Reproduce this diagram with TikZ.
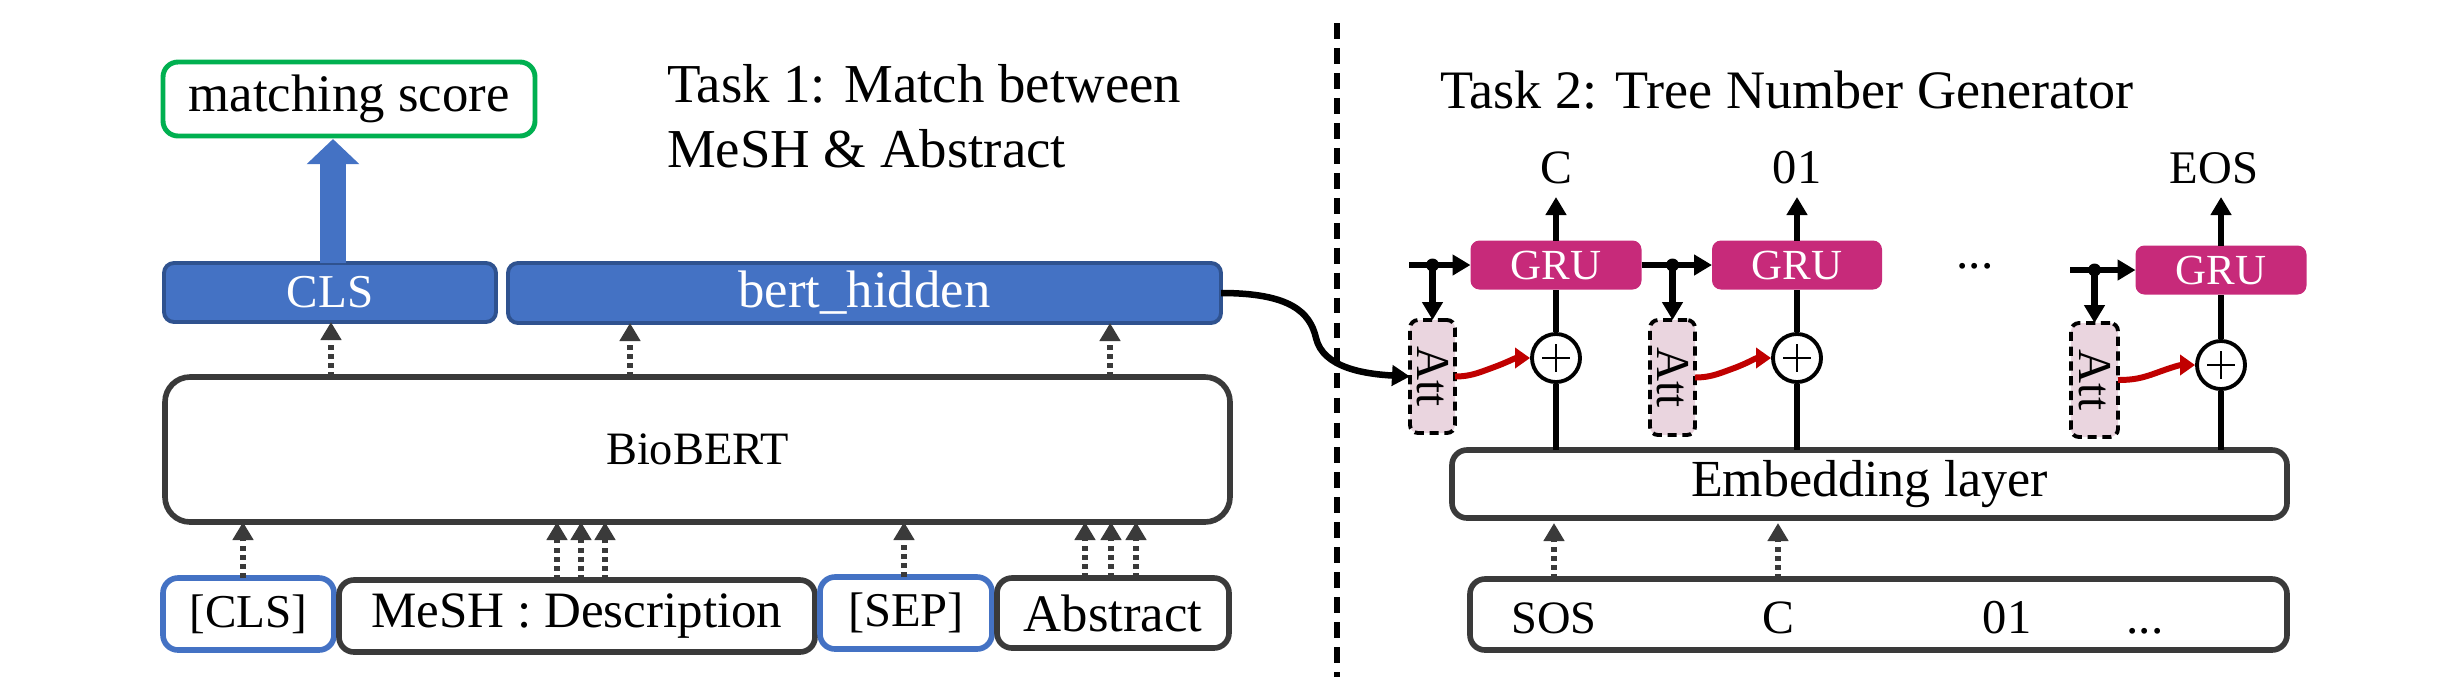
\documentclass[tikz,border=0pt]{standalone}
\usepackage{fontspec}
\usepackage{graphicx}
\setmainfont{Liberation Serif}
\usetikzlibrary{arrows.meta,calc}
\definecolor{bfill}{HTML}{4472C4}
\definecolor{bedge}{HTML}{2F528F}
\definecolor{gscore}{HTML}{00B050}
\definecolor{dgray}{HTML}{3A3A3A}
\definecolor{grucol}{RGB}{199,42,122}
\definecolor{attf}{RGB}{234,213,223}
\definecolor{redar}{HTML}{C00000}
\newcommand{\FS}[1]{\fontsize{#1}{#1}\selectfont}
\begin{document}
\begin{tikzpicture}[x=0.01cm,y=-0.01cm,
  bx/.style 2 args={minimum width=#1*0.01cm,minimum height=#2*0.01cm,inner sep=0pt,outer sep=0pt},
  wbox/.style={draw=dgray,line width=1.6pt,rounded corners=0.15cm,fill=white},
  bluebox/.style={draw=bfill,line width=1.6pt,rounded corners=0.15cm,fill=white},
  hid/.style={fill=bfill,draw=bedge,line width=1.1pt,rounded corners=0.1cm,text=white},
  grubox/.style={fill=grucol,rounded corners=0.09cm,text=white,font=\FS{12.2}},
  attbox/.style={fill=attf,draw=black,line width=1.1pt,dash pattern=on 2.6pt off 1.6pt,rounded corners=0.08cm},
  plusc/.style={circle,draw=black,line width=1.1pt,fill=white,minimum size=0.48cm,inner sep=0pt},
  lbl/.style={inner sep=0pt,outer sep=0pt,text depth=0pt},
  dotarr/.style={draw=dgray,line width=1.7pt,dash pattern=on 1.4pt off 1.2pt,-{Triangle[length=0.18cm,width=0.2cm]}},
  blk/.style={draw=black,line width=1.85pt},
  blkarr/.style={blk,-{Triangle[length=0.18cm,width=0.2cm]}},
  redarr/.style={draw=redar,line width=1.7pt,-{Triangle[length=0.15cm,width=0.2cm]}},
]
\useasboundingbox (0,0) rectangle (2439,699);

% ---------- Task 1 ----------
\node[wbox,draw=gscore,line width=1.4pt,bx={372}{74},font=\FS{15}] (score) at (349,99) {matching score};
\node[hid,bx={332}{59},font=\FS{13.4}] (cls) at (330,292.5) {CLS};
\node[hid,bx={713}{60},font=\FS{15}] (bert) at (864.5,293) {bert\_hidden};
\node[wbox,bx={1065}{145},rounded corners=0.25cm,font=\FS{13.2}] (bio) at (697.5,449.5) {BioBERT};

\node[bluebox,bx={171}{72},font=\FS{13.4}] (icls) at (248.5,614) {[CLS]};
\node[wbox,bx={476}{72},font=\FS{14.5}] (imesh) at (577,616) {MeSH : Description};
\node[bluebox,bx={172}{72},font=\FS{13.8}] (isep) at (906,613) {[SEP]};
\node[wbox,bx={232}{70},font=\FS{15}] (iabs) at (1113,613) {Abstract};

\node[lbl,anchor=base west,font=\FS{15.6}] (t1a) at (667,102) {Task 1: Match between};
\node[lbl,anchor=base west,font=\FS{15.6}] (t1b) at (667,167) {MeSH \& Abstract};

% block arrow CLS -> score
\coordinate (ba) at (333,0);
\draw[bfill,line width=0.25cm,-{Triangle[length=0.25cm,width=0.51cm]},shorten >=0.03cm] (cls.north -| ba) -- (score.south -| ba);

% dotted arrows into BioBERT
\foreach \xx/\src in {243/icls,557/imesh,581/imesh,605/imesh,904/isep,1085/iabs,1111/iabs,1136/iabs}{
  \coordinate (m) at (\xx,0);
  \draw[dotarr] (\src.north -| m) -- (bio.south -| m);
}
% dotted arrows out of BioBERT
\foreach \xx/\tgt in {331/cls,630/bert,1110/bert}{
  \coordinate (m) at (\xx,0);
  \draw[dotarr] (bio.north -| m) -- (\tgt.south -| m);
}

% divider
\coordinate (dvt) at (1337,23);
\coordinate (dvb) at (1337,677);
\draw[line width=1.5pt,dash pattern=on 4.5pt off 2.6pt] (dvt) -- (dvb);

% ---------- Task 2 ----------
\node[lbl,anchor=base west,font=\FS{15.4}] (t2) at (1440,108) {Task 2: Tree Number Generator};

\node[grubox,bx={171}{49}] (g1) at (1556,265) {GRU};
\node[grubox,bx={170}{49}] (g2) at (1797,265) {GRU};
\node[grubox,bx={171}{49}] (g3) at (2221,270) {GRU};

\node[lbl,anchor=base,font=\FS{13.6}] (o1) at (1556,183) {C};
\node[lbl,anchor=base,font=\FS{13.8}] (o2) at (1797,183) {01};
\node[lbl,anchor=base,font=\FS{13.3}] (o3) at (2214,183) {EOS};

\node[lbl,anchor=base,font=\FS{14}] (hdots) at (1975,268) {...};

\node[attbox,bx={45}{113}] (att1) at (1432.5,376.5) {\rotatebox{-90}{\FS{13.4}Att}};
\node[attbox,bx={45}{115}] (att2) at (1672.5,377.5) {\rotatebox{-90}{\FS{13.4}Att}};
\node[attbox,bx={47}{114}] (att3) at (2094.5,380) {\rotatebox{-90}{\FS{13.4}Att}};

\node[wbox,bx={835}{68},font=\FS{14.8}] (emb) at (1869.5,484) {Embedding layer};
\node[wbox,bx={817}{71}] (inp) at (1878.5,614.5) {};
\node[lbl,anchor=base,font=\FS{13.2}] (tsos) at (1554,633) {SOS};
\node[lbl,anchor=base,font=\FS{13.6}] (tc) at (1778,633) {C};
\node[lbl,anchor=base,font=\FS{13.8}] (t01) at (2007,633) {01};
\node[lbl,anchor=base,font=\FS{14}] (tdots) at (2145,633) {...};

\node[plusc] (c1) at (1556,358) {};
\node[plusc] (c2) at (1797,358) {};
\node[plusc] (c3) at (2221,365) {};
\foreach \cc in {c1,c2,c3}{
  \draw[line width=0.6pt] ($(\cc.center)+(-14,0)$) -- ($(\cc.center)+(14,0)$);
  \draw[line width=0.6pt] ($(\cc.center)+(0,-14)$) -- ($(\cc.center)+(0,14)$);
}

% verticals
\foreach \cc/\gg/\oo in {c1/g1/o1,c2/g2/o2,c3/g3/o3}{
  \draw[blk] (emb.north -| \cc) -- (\cc.south);
  \draw[blk] (\cc.north) -- (\gg.south);
  \draw[blkarr,shorten >=0.14cm] (\gg.north) -- (\gg.north |- \oo.south);
}

% recurrent inputs
\coordinate (s1) at (1409,265);
\coordinate (s3) at (2070,270);
\draw[blkarr] (s1) -- (g1.west);
\draw[blkarr] (g1.east) -- (g2.west);
\draw[blkarr] (s3) -- (g3.west);
\foreach \aa/\gg in {att1/g1,att2/g2,att3/g3}{
  \coordinate (dd) at (\aa.north |- \gg.west);
  \fill (dd) circle (0.065cm);
  \draw[blkarr] (dd) -- (\aa.north);
}

% attention to plus
\draw[redarr] (att1.east) to[out=0,in=200] ++(38,-9) to[out=20,in=180] (c1.west);
\draw[redarr] (att2.east) to[out=0,in=200] ++(38,-9) to[out=20,in=180] (c2.west);
\draw[redarr] (att3.east) to[out=0,in=200] ++(38,-7) to[out=20,in=180] (c3.west);

% bert_hidden -> first attention
\coordinate (k) at (1316,338);
\draw[blkarr] (bert.east) .. controls (1290,293) and (1310,312) .. (k) .. controls (1323,368) and (1365,374) .. (att1.west);

% embedding inputs
\draw[dotarr,shorten >=0.05cm] (tsos |- inp.north) -- (tsos |- emb.south);
\draw[dotarr,shorten >=0.05cm] (tc |- inp.north) -- (tc |- emb.south);
\end{tikzpicture}
\end{document}
